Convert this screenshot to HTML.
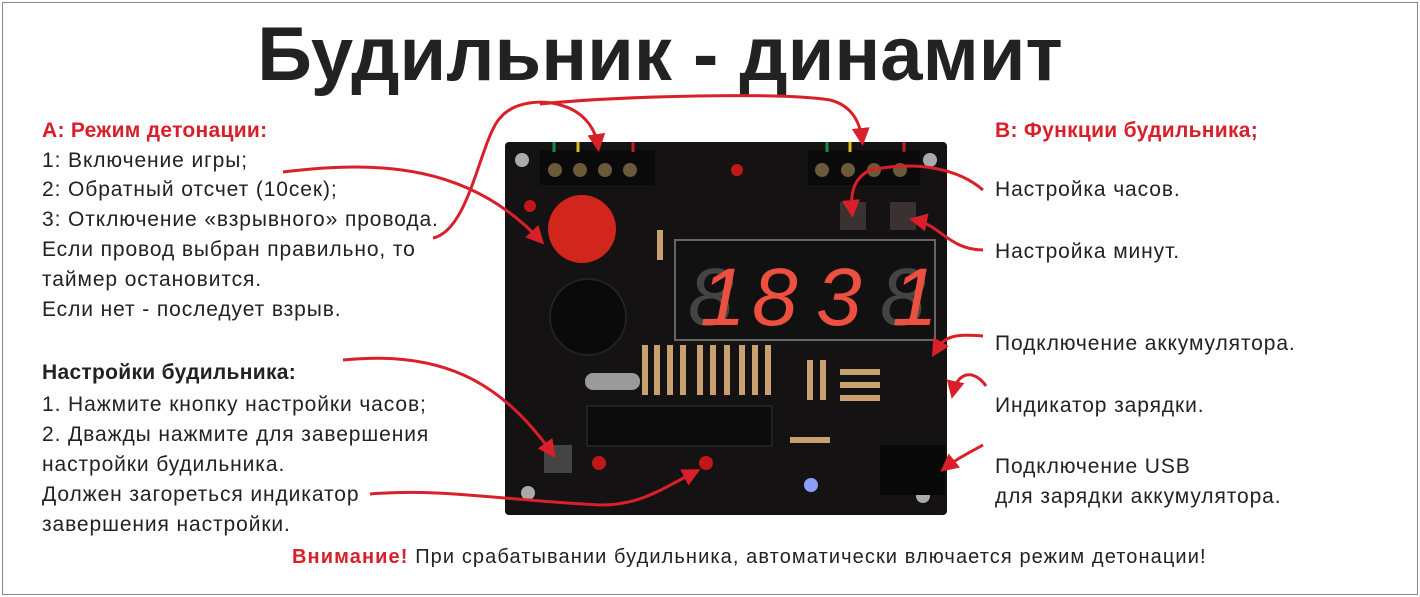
<!DOCTYPE html>
<html><head><meta charset="utf-8"><style>
html,body{margin:0;padding:0;background:#fff}
body{width:1420px;height:597px;position:relative;overflow:hidden;font-family:"Liberation Sans","DejaVu Sans",sans-serif;color:#222}
.frame{position:absolute;left:2px;top:2px;width:1414px;height:591px;border:1px solid #888}
.t{position:absolute;white-space:nowrap;font-size:21px;line-height:22px;letter-spacing:0.9px}
.r{color:#d9202a;font-weight:bold}
.b{font-weight:bold}
h1{position:absolute;left:0;width:1320px;top:11px;margin:0;text-align:center;font-size:76px;font-weight:bold;color:#222}
svg{position:absolute;left:0;top:0}
</style></head><body>
<div class="frame"></div>
<h1>Будильник - динамит</h1>

<div class="t r" style="left:42px;top:120px;letter-spacing:0.3px">A: Режим детонации:</div>
<div class="t" style="left:42px;top:150px">1: Включение игры;</div>
<div class="t" style="left:42px;top:179px">2: Обратный отсчет (10сек);</div>
<div class="t" style="left:42px;top:209px">3: Отключение «взрывного» провода.</div>
<div class="t" style="left:42px;top:239px">Если провод выбран правильно, то</div>
<div class="t" style="left:42px;top:269px">таймер остановится.</div>
<div class="t" style="left:42px;top:299px">Если нет - последует взрыв.</div>
<div class="t b" style="left:42px;top:362px;letter-spacing:0.3px">Настройки будильника:</div>
<div class="t" style="left:42px;top:394px">1. Нажмите кнопку настройки часов;</div>
<div class="t" style="left:42px;top:424px">2. Дважды нажмите для завершения</div>
<div class="t" style="left:42px;top:454px">настройки будильника.</div>
<div class="t" style="left:42px;top:484px">Должен загореться индикатор</div>
<div class="t" style="left:42px;top:514px">завершения настройки.</div>

<div class="t r" style="left:995px;top:120px;letter-spacing:0.3px">B: Функции будильника;</div>
<div class="t" style="left:995px;top:179px">Настройка часов.</div>
<div class="t" style="left:995px;top:241px">Настройка минут.</div>
<div class="t" style="left:995px;top:333px">Подключение аккумулятора.</div>
<div class="t" style="left:995px;top:395px">Индикатор зарядки.</div>
<div class="t" style="left:995px;top:456px">Подключение USB</div>
<div class="t" style="left:995px;top:486px">для зарядки аккумулятора.</div>

<div class="t" style="left:292px;top:546px;font-size:20px;letter-spacing:1.1px"><span class="r">Внимание!</span> При срабатывании будильника, автоматически влючается режим детонации!</div>

<svg width="1420" height="597" viewBox="0 0 1420 597">
<defs>
<marker id="a" markerWidth="6" markerHeight="6" refX="4" refY="3" orient="auto" markerUnits="strokeWidth"><path d="M0,0 L6,3 L0,6 Z" fill="#d9202a"/></marker>
</defs>
<rect x="505" y="142" width="442" height="373" rx="4" fill="#141212"/>
<rect x="540" y="150" width="115" height="35" fill="#0a0a0a"/>
<rect x="808" y="150" width="112" height="35" fill="#0a0a0a"/>
<g fill="#6b5a3a"><circle cx="555" cy="170" r="7"/><circle cx="580" cy="170" r="7"/><circle cx="605" cy="170" r="7"/><circle cx="630" cy="170" r="7"/><circle cx="822" cy="170" r="7"/><circle cx="848" cy="170" r="7"/><circle cx="874" cy="170" r="7"/><circle cx="900" cy="170" r="7"/></g>
<g stroke-width="3"><line x1="554" y1="142" x2="554" y2="152" stroke="#1a8a4a"/><line x1="578" y1="142" x2="578" y2="152" stroke="#d8c020"/><line x1="633" y1="142" x2="633" y2="152" stroke="#c02020"/><line x1="827" y1="142" x2="827" y2="152" stroke="#1a8a4a"/><line x1="850" y1="142" x2="850" y2="152" stroke="#d8c020"/><line x1="904" y1="142" x2="904" y2="152" stroke="#c02020"/></g>
<g fill="#aaa"><circle cx="522" cy="160" r="7"/><circle cx="930" cy="160" r="7"/><circle cx="528" cy="493" r="7"/><circle cx="923" cy="496" r="7"/></g>
<circle cx="582" cy="229" r="34" fill="#d2261c"/>
<circle cx="530" cy="206" r="6" fill="#c01818"/><circle cx="737" cy="170" r="6" fill="#c01818"/>
<circle cx="599" cy="463" r="7" fill="#c01818"/><circle cx="706" cy="463" r="7" fill="#c01818"/>
<circle cx="811" cy="485" r="7" fill="#8aa0ff"/>
<circle cx="588" cy="317" r="38" fill="#0a0a0a" stroke="#222" stroke-width="2"/>
<rect x="840" y="202" width="26" height="28" fill="#3a3230"/><rect x="890" y="202" width="26" height="28" fill="#3a3230"/>
<rect x="544" y="445" width="28" height="28" fill="#444"/>
<rect x="587" y="406" width="185" height="40" fill="#0c0c0c" stroke="#333"/>
<rect x="585" y="373" width="55" height="17" rx="8" fill="#9a9a9a"/>
<g stroke="#c9a070" stroke-width="6"><line x1="645" y1="345" x2="645" y2="395"/><line x1="657" y1="345" x2="657" y2="395"/><line x1="670" y1="345" x2="670" y2="395"/><line x1="683" y1="345" x2="683" y2="395"/><line x1="700" y1="345" x2="700" y2="395"/><line x1="713" y1="345" x2="713" y2="395"/><line x1="727" y1="345" x2="727" y2="395"/><line x1="742" y1="345" x2="742" y2="395"/><line x1="755" y1="345" x2="755" y2="395"/><line x1="768" y1="345" x2="768" y2="395"/><line x1="810" y1="360" x2="810" y2="400"/><line x1="823" y1="360" x2="823" y2="400"/><line x1="840" y1="372" x2="880" y2="372"/><line x1="840" y1="385" x2="880" y2="385"/><line x1="840" y1="398" x2="880" y2="398"/><line x1="790" y1="440" x2="830" y2="440"/><line x1="660" y1="230" x2="660" y2="260"/></g>
<rect x="880" y="445" width="65" height="50" fill="#080808"/>
<rect x="675" y="240" width="260" height="100" fill="#111" stroke="#666" stroke-width="2"/>
<g fill="#ee5040" font-family="Liberation Sans" font-size="82" font-style="italic"><text x="688" y="325" fill="#444">8</text><text x="752" y="325">8</text><text x="816" y="325">3</text><text x="880" y="325" fill="#444">8</text><text x="700" y="325">1</text><text x="892" y="325">1</text></g>
<g fill="none" stroke="#d9202a" stroke-width="3">
<path d="M283,172 C380,160 470,165 540,240" marker-end="url(#a)"/>
<path d="M433,238 C470,230 480,140 500,118 C515,100 545,100 560,105 C580,110 595,125 598,146" marker-end="url(#a)"/>
<path d="M540,104 C620,96 780,92 830,100 C850,105 860,120 862,140" marker-end="url(#a)"/>
<path d="M983,190 C960,170 920,160 870,170 C855,178 850,190 852,212" marker-end="url(#a)"/>
<path d="M983,250 C950,250 940,225 915,220" marker-end="url(#a)"/>
<path d="M983,336 C955,334 945,335 935,352" marker-end="url(#a)"/>
<path d="M986,386 C975,370 958,370 953,393" marker-end="url(#a)"/>
<path d="M983,445 C965,455 955,460 945,468" marker-end="url(#a)"/>
<path d="M343,360 C440,350 500,380 552,453" marker-end="url(#a)"/>
<path d="M370,494 C440,488 500,500 600,505 C640,505 660,490 695,472" marker-end="url(#a)"/>
</g>
</svg>
</body></html>
